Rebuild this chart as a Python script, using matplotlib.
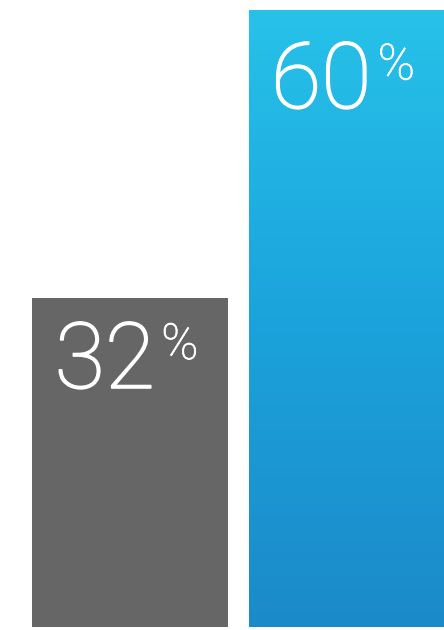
import matplotlib
matplotlib.use("Agg")
import matplotlib.pyplot as plt
import matplotlib.patheffects as pe
import numpy as np
from matplotlib.colors import LinearSegmentedColormap

categories = ["A", "B"]
values = [32, 60]
labels = ["32", "60"]

plt.rcParams["font.family"] = ["Roboto", "DejaVu Sans"]

fig = plt.figure(figsize=(4.44, 6.3), dpi=100)
ax = fig.add_axes([0, 0, 1, 1])
x = np.arange(len(categories))
bars = ax.bar(x, values, width=0.905, color=["#666666", "none"], linewidth=0)

# gradient fill for the blue bar, clipped to the bar rectangle
blue = bars[1]
bx, by = blue.get_x(), blue.get_y()
bw, bh = blue.get_width(), blue.get_height()
cmap = LinearSegmentedColormap.from_list("g", ["#1C8AC9", "#1BA3DC", "#27C2E9"])
grad = np.linspace(0, 1, 256).reshape(-1, 1)
im = ax.imshow(grad, cmap=cmap, origin="lower", aspect="auto",
               extent=[bx, bx + bw, by, by + bh], zorder=1)
im.set_clip_path(blue)
ax.set_xlim(-0.600, 1.450)
ax.set_ylim(-0.29, 60.97)
ax.axis("off")

# Roboto Light is a little thinner than the original face, thicken slightly
thick = [pe.withStroke(linewidth=1.2, foreground="white")]
thin = [pe.withStroke(linewidth=0.5, foreground="white")]
dy_num = [-14.8, -20.5]   # label drop below bar top, points
dy_pct = [-17.0, -23.0]
for xi, v, lab, dn, dp in zip(x, values, labels, dy_num, dy_pct):
    ax.annotate(lab, (xi, v), xytext=(18, dn), textcoords="offset points",
                ha="right", va="top", fontsize=66, color="white",
                fontweight="light", zorder=3, path_effects=thick)
    ax.annotate("%", (xi, v), xytext=(22.5, dp), textcoords="offset points",
                ha="left", va="top", fontsize=36, color="white",
                fontweight="light", zorder=3, path_effects=thin)

fig.savefig("out.png", dpi=100)
